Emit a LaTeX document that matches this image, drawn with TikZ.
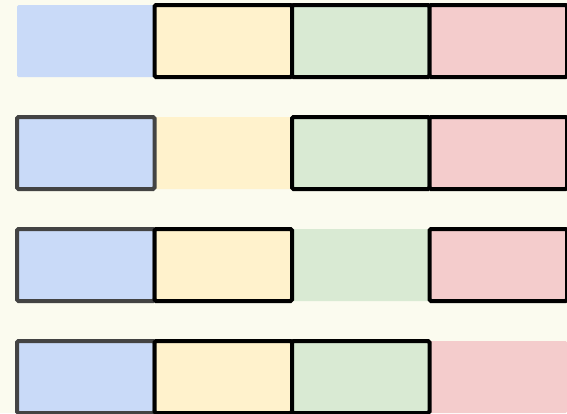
\documentclass[tikz,border=0pt]{standalone}
\usetikzlibrary{positioning}
\definecolor{fondo}{HTML}{FBFBEF}
\definecolor{azul}{HTML}{C9DAF8}
\definecolor{amarillo}{HTML}{FFF2CC}
\definecolor{verde}{HTML}{D9EAD3}
\definecolor{rojo}{HTML}{F4CCCC}
\definecolor{gris}{HTML}{434343}
\begin{document}
\begin{tikzpicture}[x=1pt,y=-1pt,
 celda/.style={minimum width=137.5pt,minimum height=72pt,inner sep=0pt,outer sep=0pt,rounded corners=1.5pt,line width=4pt},
 hueco/.style={celda,draw=none},
 marco/.style={celda,draw=black}]
\fill[fondo] (0,0) rectangle (567,413);
\useasboundingbox (0,0) rectangle (567,413);
\clip (0,0) rectangle (567,413);
% primero la celda sin borde de cada fila, luego las demas
\foreach \f in {1,...,4}{
  \foreach \c/\col in {1/azul,2/amarillo,3/verde,4/rojo}{
    \ifnum\f=\c
      \node[hueco,fill=\col] (c\f\c) at ({-51.75+137.5*\c},{41+112*(\f-1)}) {};
    \fi
  }
  \foreach \c/\col in {1/azul,2/amarillo,3/verde,4/rojo}{
    \ifnum\f=\c\else
      \ifnum\c=1
        \node[marco,fill=\col,draw=gris] (c\f\c) at ({-51.75+137.5*\c},{41+112*(\f-1)}) {};
      \else
        \node[marco,fill=\col] (c\f\c) at ({-51.75+137.5*\c},{41+112*(\f-1)}) {};
      \fi
    \fi
  }
}
\end{tikzpicture}
\end{document}
